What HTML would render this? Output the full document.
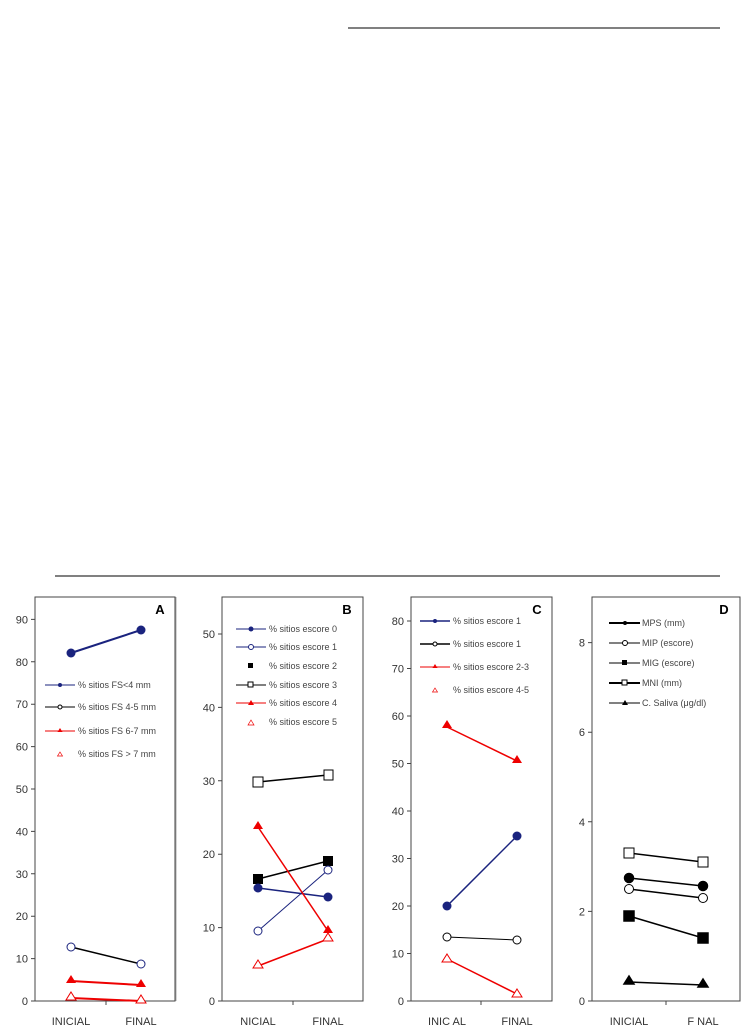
<!DOCTYPE html><html><head><style>body{margin:0;background:#fff}svg{display:block}text{font-family:"Liberation Sans",Arial,sans-serif}</style></head><body>
<svg width="753" height="1036" viewBox="0 0 753 1036" xmlns="http://www.w3.org/2000/svg">
<line x1="348" y1="28" x2="720" y2="28" stroke="#000" stroke-width="1"/>
<line x1="55" y1="576" x2="720" y2="576" stroke="#000" stroke-width="1"/>
<g fill="none" stroke="#444" stroke-width="1">
<rect x="35" y="597" width="140" height="404"/><line x1="176" y1="597" x2="176" y2="1001" stroke="#aaa"/>
<rect x="222" y="597" width="141" height="404"/>
<rect x="411" y="597" width="141" height="404"/>
<rect x="592" y="597" width="148" height="404"/>
<line x1="106" y1="1001" x2="106" y2="1005"/><line x1="293" y1="1001" x2="293" y2="1005"/><line x1="481" y1="1001" x2="481" y2="1005"/><line x1="666" y1="1001" x2="666" y2="1005"/>
<path d="M31 1001h4M31 958.6h4M31 916.2h4M31 873.8h4M31 831.4h4M31 789h4M31 746.6h4M31 704.2h4M31 661.8h4M31 619.4h4"/>
<path d="M218 1001h4M218 927.6h4M218 854.2h4M218 780.8h4M218 707.4h4M218 634h4"/>
<path d="M407 1001h4M407 953.5h4M407 906h4M407 858.5h4M407 811h4M407 763.5h4M407 716h4M407 668.5h4M407 621h4"/>
<path d="M588 1001h4M588 911.4h4M588 821.8h4M588 732.2h4M588 642.6h4"/>
</g>
<g font-size="11" fill="#333" text-anchor="end">
<text x="28" y="1005">0</text><text x="28" y="962.6">10</text><text x="28" y="920.2">20</text><text x="28" y="877.8">30</text><text x="28" y="835.4">40</text><text x="28" y="793">50</text><text x="28" y="750.6">60</text><text x="28" y="708.2">70</text><text x="28" y="665.8">80</text><text x="28" y="623.4">90</text>
<text x="215" y="1005">0</text><text x="215" y="931.6">10</text><text x="215" y="858.2">20</text><text x="215" y="784.8">30</text><text x="215" y="711.4">40</text><text x="215" y="638">50</text>
<text x="404" y="1005">0</text><text x="404" y="957.5">10</text><text x="404" y="910">20</text><text x="404" y="862.5">30</text><text x="404" y="815">40</text><text x="404" y="767.5">50</text><text x="404" y="720">60</text><text x="404" y="672.5">70</text><text x="404" y="625">80</text>
<text x="585" y="1005">0</text><text x="585" y="915.4">2</text><text x="585" y="825.8">4</text><text x="585" y="736.2">6</text><text x="585" y="646.6">8</text>
</g>
<g font-size="11" fill="#333" text-anchor="middle">
<text x="71" y="1025">INICIAL</text><text x="141" y="1025">FINAL</text>
<text x="258" y="1025">NICIAL</text><text x="328" y="1025">FINAL</text>
<text x="447" y="1025">INIC AL</text><text x="517" y="1025">FINAL</text>
<text x="629" y="1025">INICIAL</text><text x="703" y="1025">F NAL</text>
</g>
<g font-size="13" font-weight="bold" fill="#000" text-anchor="middle">
<text x="160" y="614">A</text><text x="347" y="614">B</text><text x="537" y="614">C</text><text x="724" y="614">D</text>
</g>
<g stroke-width="1.5">
<line x1="71" y1="653" x2="141" y2="630" stroke="#1a237e" stroke-width="2"/><circle cx="71" cy="653" r="4.5" fill="#1a237e"/><circle cx="141" cy="630" r="4.5" fill="#1a237e"/>
<line x1="71" y1="947" x2="141" y2="964" stroke="#000"/><circle cx="71" cy="947" r="4" fill="#fff" stroke="#1a237e" stroke-width="1"/><circle cx="141" cy="964" r="4" fill="#fff" stroke="#1a237e" stroke-width="1"/>
<line x1="71" y1="981" x2="141" y2="985" stroke="#e00" stroke-width="2"/><path d="M71 975l5 8h-10z M141 979l5 8h-10z" fill="#e00"/>
<line x1="71" y1="998" x2="141" y2="1001" stroke="#e00" stroke-width="2"/><path d="M71 992l5 8h-10z M141 995l5 8h-10z" fill="#fff" stroke="#e00" stroke-width="1"/>
</g>
<g font-size="9" fill="#444">
<line x1="45" y1="685" x2="75" y2="685" stroke="#1a237e"/><circle cx="60" cy="685" r="2" fill="#1a237e"/><text x="78" y="688">% sitios FS&lt;4 mm</text>
<line x1="45" y1="707" x2="75" y2="707" stroke="#000"/><circle cx="60" cy="707" r="2" fill="#fff" stroke="#000"/><text x="78" y="710">% sitios FS 4-5 mm</text>
<line x1="45" y1="731" x2="75" y2="731" stroke="#e00"/><path d="M60 728l2.5 4h-5z" fill="#e00"/><text x="78" y="734">% sitios FS 6-7 mm</text>
<path d="M60 752l2.5 4h-5z" fill="none" stroke="#e00" stroke-width=".7"/><text x="78" y="757">% sitios FS &gt; 7 mm</text>
</g>
<g stroke-width="1.5">
<line x1="258" y1="782" x2="328" y2="775" stroke="#000"/><rect x="253" y="777" width="10" height="10" fill="#fff" stroke="#000" stroke-width="1"/><rect x="324" y="770" width="9" height="10" fill="#fff" stroke="#000" stroke-width="1"/>
<line x1="258" y1="879" x2="328" y2="861" stroke="#000"/><rect x="253" y="874" width="10" height="10" fill="#000"/><rect x="323" y="856" width="10" height="10" fill="#000"/>
<line x1="258" y1="888" x2="328" y2="897" stroke="#1a237e"/><circle cx="258" cy="888" r="4.5" fill="#1a237e"/><circle cx="328" cy="897" r="4.5" fill="#1a237e"/>
<line x1="258" y1="931" x2="328" y2="870" stroke="#1a237e" stroke-width="1"/><circle cx="258" cy="931" r="4" fill="#fff" stroke="#1a237e" stroke-width="1"/><circle cx="328" cy="870" r="4" fill="#fff" stroke="#1a237e" stroke-width="1"/>
<line x1="258" y1="827" x2="328" y2="931" stroke="#e00"/><path d="M258 821l5 8h-10z M328 925l5 8h-10z" fill="#e00"/>
<line x1="258" y1="966" x2="328" y2="939" stroke="#e00"/><path d="M258 960l5 8h-10z M328 933l5 8h-10z" fill="#fff" stroke="#e00" stroke-width="1"/>
</g>
<g font-size="9" fill="#444">
<line x1="236" y1="629" x2="266" y2="629" stroke="#1a237e"/><circle cx="251" cy="629" r="2.5" fill="#1a237e"/><text x="269" y="632">% sitios escore 0</text>
<line x1="236" y1="647" x2="266" y2="647" stroke="#1a237e"/><circle cx="251" cy="647" r="2.5" fill="#fff" stroke="#1a237e"/><text x="269" y="650">% sitios escore 1</text>
<rect x="248" y="663" width="5" height="5" fill="#000"/><text x="269" y="669">% sitios escore 2</text>
<line x1="236" y1="685" x2="266" y2="685" stroke="#000"/><rect x="248" y="682" width="5" height="5" fill="#fff" stroke="#000"/><text x="269" y="688">% sitios escore 3</text>
<line x1="236" y1="703" x2="266" y2="703" stroke="#e00"/><path d="M251 700l3 5h-6z" fill="#e00"/><text x="269" y="706">% sitios escore 4</text>
<path d="M251 720l3 5h-6z" fill="none" stroke="#e00" stroke-width=".7"/><text x="269" y="725">% sitios escore 5</text>
</g>
<g stroke-width="1.5">
<line x1="447" y1="727" x2="517" y2="761" stroke="#e00"/><path d="M447 720l5 8h-10z M517 755l5 8h-10z" fill="#e00"/>
<line x1="447" y1="906" x2="517" y2="836" stroke="#1a237e"/><circle cx="447" cy="906" r="4.5" fill="#1a237e"/><circle cx="517" cy="836" r="4.5" fill="#1a237e"/>
<line x1="447" y1="937" x2="517" y2="940" stroke="#000" stroke-width="1"/><circle cx="447" cy="937" r="4" fill="#fff" stroke="#000" stroke-width="1"/><circle cx="517" cy="940" r="4" fill="#fff" stroke="#000" stroke-width="1"/>
<line x1="447" y1="959" x2="517" y2="994" stroke="#e00"/><path d="M447 954l5 8h-10z M517 989l5 8h-10z" fill="#fff" stroke="#e00" stroke-width="1"/>
</g>
<g font-size="9" fill="#444">
<line x1="420" y1="621" x2="450" y2="621" stroke="#1a237e" stroke-width="1.5"/><circle cx="435" cy="621" r="2" fill="#1a237e"/><text x="453" y="624">% sitios escore 1</text>
<line x1="420" y1="644" x2="450" y2="644" stroke="#000" stroke-width="1.5"/><circle cx="435" cy="644" r="2" fill="#fff" stroke="#000"/><text x="453" y="647">% sitios escore 1</text>
<line x1="420" y1="667" x2="450" y2="667" stroke="#e00"/><path d="M435 664l2.5 4h-5z" fill="#e00"/><text x="453" y="670">% sitios escore 2-3</text>
<path d="M435 688l2.5 4h-5z" fill="none" stroke="#e00" stroke-width=".7"/><text x="453" y="693">% sitios escore 4-5</text>
</g>
<g stroke="#000" stroke-width="1.5">
<line x1="629" y1="853" x2="703" y2="862"/><rect x="624" y="848" width="10" height="10" fill="#fff" stroke-width="1"/><rect x="698" y="857" width="10" height="10" fill="#fff" stroke-width="1"/>
<line x1="629" y1="878" x2="703" y2="886"/><circle cx="629" cy="878" r="4.5" fill="#000"/><circle cx="703" cy="886" r="4.5" fill="#000"/>
<line x1="629" y1="889" x2="703" y2="898"/><circle cx="629" cy="889" r="4.5" fill="#fff" stroke-width="1"/><circle cx="703" cy="898" r="4.5" fill="#fff" stroke-width="1"/>
<line x1="629" y1="916" x2="703" y2="938"/><rect x="624" y="911" width="10" height="10" fill="#000"/><rect x="698" y="933" width="10" height="10" fill="#000"/>
<line x1="629" y1="982" x2="703" y2="985"/><path d="M629 976l5 8h-10z M703 979l5 8h-10z" fill="#000"/>
</g>
<g font-size="9" fill="#444">
<line x1="609" y1="623" x2="640" y2="623" stroke="#000" stroke-width="2"/><circle cx="625" cy="623" r="2" fill="#000"/><text x="642" y="626">MPS (mm)</text>
<line x1="609" y1="643" x2="640" y2="643" stroke="#000"/><circle cx="625" cy="643" r="2.5" fill="#fff" stroke="#000"/><text x="642" y="646">MIP (escore)</text>
<line x1="609" y1="663" x2="640" y2="663" stroke="#000"/><rect x="622" y="660" width="5" height="5" fill="#000"/><text x="642" y="666">MIG (escore)</text>
<line x1="609" y1="683" x2="640" y2="683" stroke="#000" stroke-width="2"/><rect x="622" y="680" width="5" height="5" fill="#fff" stroke="#000"/><text x="642" y="686">MNI (mm)</text>
<line x1="609" y1="703" x2="640" y2="703" stroke="#000"/><path d="M625 700l3 5h-6z" fill="#000"/><text x="642" y="706">C. Saliva (μg/dl)</text>
</g>
</svg></body></html>
